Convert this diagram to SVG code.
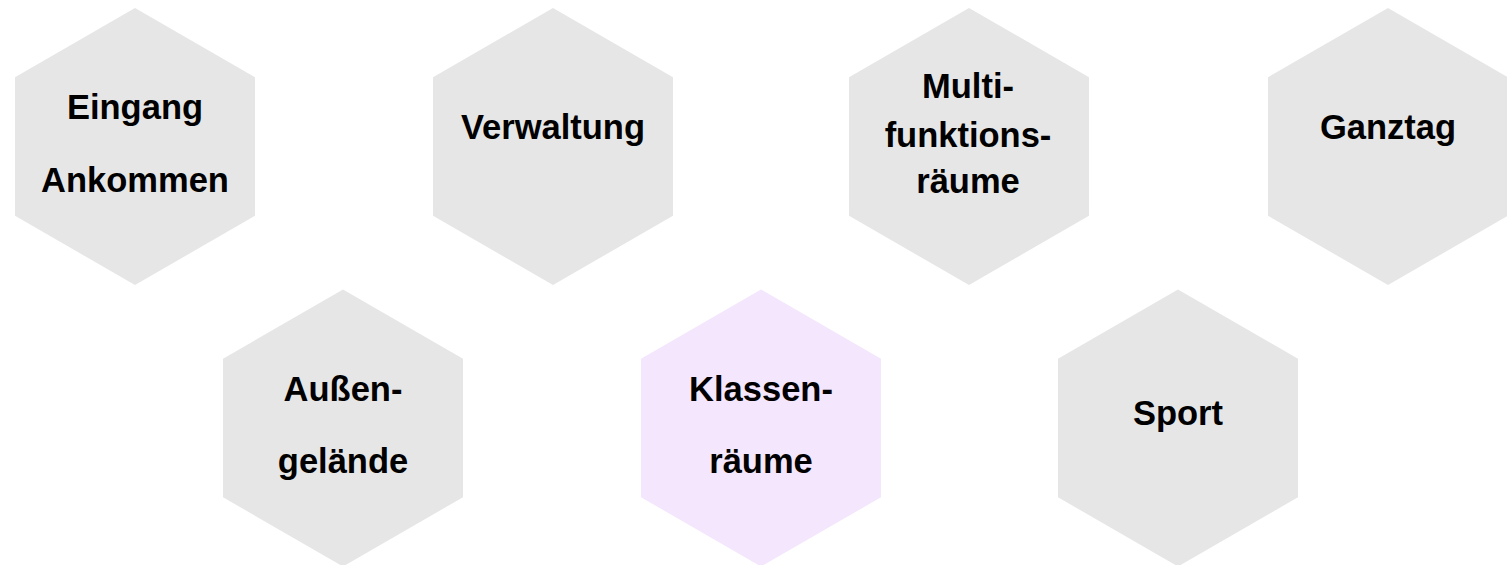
<svg xmlns="http://www.w3.org/2000/svg" xmlns:xlink="http://www.w3.org/1999/xlink" width="1507" height="565" viewBox="0 0 1507 565">
  <style>
    .hex { fill: #e6e6e6; }
    .hex.sel { fill: #f3e6fd; }
    text { font-family: "Liberation Sans", Arial, sans-serif; font-weight: bold; font-size: 34.5px; fill: #000; text-anchor: middle; }
  </style>
  <defs>
    <polygon id="hexshape" points="0,-138.5 120,-69.25 120,69.25 0,138.5 -120,69.25 -120,-69.25"/>
  </defs>
  <rect width="1507" height="565" fill="#ffffff"/>
  <g id="connectors"></g>
  <g id="node-eingang">
    <use xlink:href="#hexshape" href="#hexshape" class="hex" x="135" y="146.5"/>
    <text x="135" y="119">Eingang</text>
    <text x="135" y="192">Ankommen</text>
  </g>
  <g id="node-verwaltung">
    <use xlink:href="#hexshape" href="#hexshape" class="hex" x="553" y="146.5"/>
    <text x="553" y="139">Verwaltung</text>
  </g>
  <g id="node-multi">
    <use xlink:href="#hexshape" href="#hexshape" class="hex" x="969" y="146.5"/>
    <text x="968" y="98">Multi-</text>
    <text x="968" y="147">funktions-</text>
    <text x="968" y="193">räume</text>
  </g>
  <g id="node-ganztag">
    <use xlink:href="#hexshape" href="#hexshape" class="hex" x="1388" y="146.5"/>
    <text x="1388" y="139">Ganztag</text>
  </g>
  <g id="node-aussen">
    <use xlink:href="#hexshape" href="#hexshape" class="hex" x="343" y="428"/>
    <text x="343" y="401">Außen-</text>
    <text x="343" y="473">gelände</text>
  </g>
  <g id="node-klassen">
    <use xlink:href="#hexshape" href="#hexshape" class="hex sel" x="761" y="428"/>
    <text x="761" y="401">Klassen-</text>
    <text x="761" y="473">räume</text>
  </g>
  <g id="node-sport">
    <use xlink:href="#hexshape" href="#hexshape" class="hex" x="1178" y="428"/>
    <text x="1178" y="425">Sport</text>
  </g>
</svg>
